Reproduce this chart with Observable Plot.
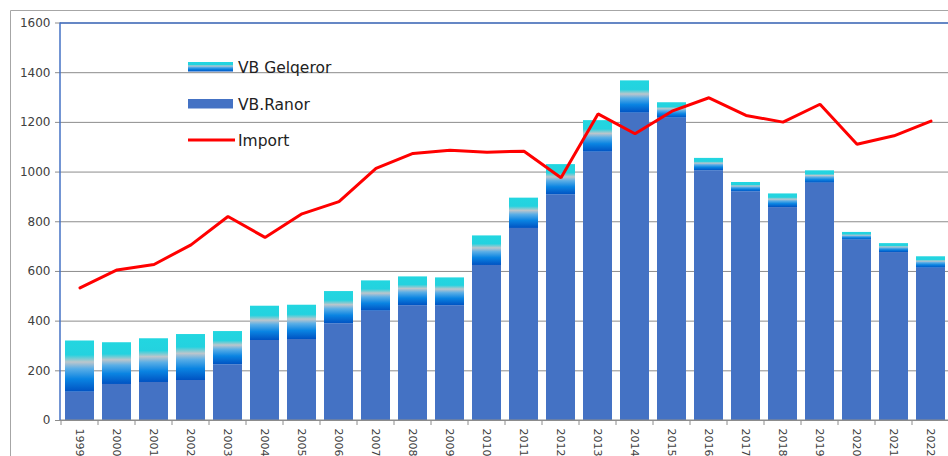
<!DOCTYPE html>
<html>
<head>
<meta charset="utf-8">
<script src="https://cdn.jsdelivr.net/npm/d3@7"></script>
<script src="https://cdn.jsdelivr.net/npm/@observablehq/plot@0.6"></script>
<style>
  html, body { margin: 0; padding: 0; background: #fff; }
  #chart svg { display: block; }
</style>
</head>
<body>
<div id="chart"></div>
<script>
const years = ["1999","2000","2001","2002","2003","2004","2005","2006","2007","2008","2009","2010","2011","2012","2013","2014","2015","2016","2017","2018","2019","2020","2021","2022"];
const ranor = [114,145,153,161,224,322,326,389,440,462,462,624,773,908,1080,1237,1217,1005,920,857,955,726,676,613];
const gelqeror = [206,168,176,185,134,138,138,130,122,116,112,119,122,122,127,130,62,50,38,55,50,31,36,46];
const importVals = [534,606,628,707,821,737,832,881,1015,1075,1088,1080,1084,977,1234,1154,1245,1299,1228,1201,1273,1112,1146,1205];
const yTicks = [0,200,400,600,800,1000,1200,1400,1600];
const seriesNames = ["VB Gelqeror","VB.Ranor","Import"];

const rows = years.map((y, i) => ({year: y, ranor: ranor[i], gel: gelqeror[i], imp: importVals[i]}));

const BLUE = "#4472C4";
const GRID = "#8c8c8c";

const plot = Plot.plot({
  width: 948,
  height: 456,
  marginLeft: 60,
  marginRight: -2,
  marginTop: 22.5,
  marginBottom: 36,
  style: {fontFamily: "'DejaVu Sans', sans-serif", background: "#fff", color: "#404040"},
  x: {type: "band", domain: years, paddingInner: 0.22, paddingOuter: 0.11, label: null},
  y: {domain: [0, 1600], label: null},
  marks: [
    Plot.ruleY(yTicks, {stroke: GRID, strokeWidth: 1}),
    Plot.barY(rows, {x: "year", y1: d => 0, y2: "ranor", fill: BLUE}),
    Plot.barY(rows, {x: "year", y1: "ranor", y2: d => d.ranor + d.gel, fill: "url(#gelGrad)"}),
    Plot.ruleY([1600], {stroke: BLUE, strokeWidth: 1.5}),
    Plot.lineY(rows, {x: "year", y: "imp", stroke: "#ff0000", strokeWidth: 3, strokeLinejoin: "miter"}),
    Plot.axisY({ticks: yTicks, tickSize: 5, tickPadding: 5, fontSize: 12, tickFormat: d => String(d), stroke: GRID}),
    Plot.axisX({tickSize: 0, tickPadding: 8, tickRotate: 90, fontSize: 11})
  ]
});

const svg = d3.select(plot);
const defs = svg.insert("defs", ":first-child");
const g = defs.append("linearGradient").attr("id", "gelGrad").attr("x1", 0).attr("y1", 0).attr("x2", 0).attr("y2", 1);
[[0, "#22d6e0"], [0.28, "#24d2df"], [0.42, "#bcc6cc"], [0.55, "#5aaee6"], [0.75, "#0a84e2"], [1, "#0052c2"]]
  .forEach(([o, c]) => g.append("stop").attr("offset", o).attr("stop-color", c));

const xs = plot.scale("x");
const ys = plot.scale("y");
const y0 = ys.apply(0);
const gap = (xs.step - xs.bandwidth) / 2;
const over = svg.append("g");
// baseline
over.append("line").attr("x1", xs.range[0]).attr("x2", 948).attr("y1", y0).attr("y2", y0).attr("stroke", GRID);
// category boundary ticks
years.forEach(yr => {
  const bx = xs.apply(yr) - gap;
  over.append("line").attr("x1", bx).attr("x2", bx).attr("y1", y0).attr("y2", y0 + 5).attr("stroke", GRID);
});
// left blue axis line
over.append("line").attr("x1", xs.range[0]).attr("x2", xs.range[0]).attr("y1", ys.apply(1600)).attr("y2", y0).attr("stroke", BLUE).attr("stroke-width", 1.5);
// outer border
over.append("path").attr("d", "M10.5,456 V10.5 H948").attr("fill", "none").attr("stroke", "#a6a6a6");

// legend
const lg = svg.append("g").attr("font-family", "'DejaVu Sans', sans-serif").attr("font-size", 15.5).attr("fill", "#222").attr("text-anchor", "start");
lg.append("rect").attr("x", 188).attr("y", 62).attr("width", 45).attr("height", 9.5).attr("fill", "url(#gelGrad)");
lg.append("text").attr("x", 238).attr("y", 73).text(seriesNames[0]);
lg.append("rect").attr("x", 188).attr("y", 99).attr("width", 45).attr("height", 9.5).attr("fill", BLUE);
lg.append("text").attr("x", 238).attr("y", 110).text(seriesNames[1]);
lg.append("line").attr("x1", 188).attr("x2", 235).attr("y1", 140).attr("y2", 140).attr("stroke", "#ff0000").attr("stroke-width", 3);
lg.append("text").attr("x", 238).attr("y", 145.5).text(seriesNames[2]);

document.getElementById("chart").appendChild(plot);
</script>
</body>
</html>
